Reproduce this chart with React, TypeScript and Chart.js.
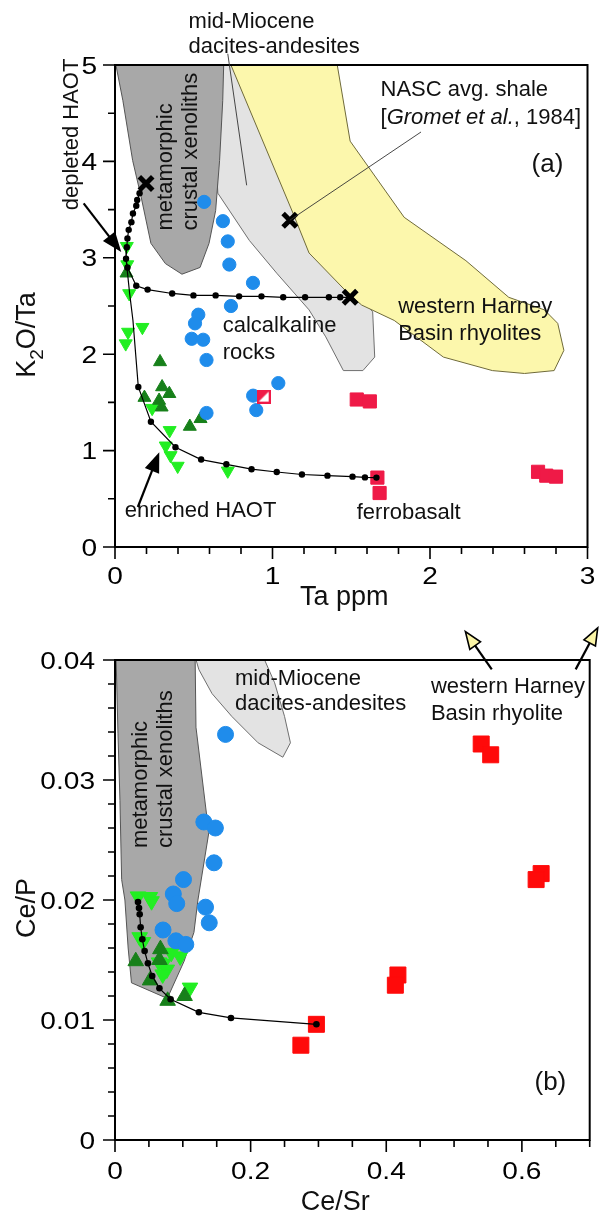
import React, { useEffect, useRef } from 'react';
import { Chart, registerables } from 'chart.js';

Chart.register(...registerables);

const FONT = '"Liberation Sans", Arial, Helvetica, sans-serif';
type P = [number, number];

// ---------------- Panel (a): Ta ppm vs K2O/Ta ----------------
const aXAxis = { min: 0, max: 3, step: 0.2, major: 1 };
const aYAxis = { min: 0, max: 5, step: 0.5, major: 1 };

const aXenolithField: P[] = [[-0.03, 5.3], [0.05, 4.63], [0.112, 4.01], [0.166, 3.63], [0.228, 3.15], [0.32, 2.94], [0.425, 2.83], [0.54, 2.9], [0.597, 3.15], [0.639, 3.49], [0.664, 4.01], [0.684, 4.63], [0.695, 5.3], [-0.03, 5.3]];
const aDaciteField: P[] = [[0.6, 5.3], [0.653, 3.67], [0.853, 3.18], [1.027, 2.84], [1.232, 2.46], [1.338, 2.18], [1.45, 1.83], [1.574, 1.83], [1.649, 1.97], [1.636, 2.44], [1.4, 2.9], [1.1, 4.0], [0.9, 5.3], [0.6, 5.3]];
const aRhyoliteField: P[] = [[0.659, 5.3], [1.131, 3.46], [1.232, 3.05], [1.481, 2.63], [1.566, 2.51], [1.773, 2.35], [2.085, 1.97], [2.396, 1.83], [2.6, 1.8], [2.788, 1.83], [2.85, 2.04], [2.811, 2.32], [2.726, 2.46], [2.5, 2.59], [2.228, 2.97], [1.836, 3.42], [1.493, 4.21], [1.38, 5.3], [0.659, 5.3]];

const aDepletedCurve: P[] = [[0.197, 3.77], [0.156, 3.67], [0.141, 3.6], [0.135, 3.54], [0.114, 3.46], [0.104, 3.37], [0.087, 3.29], [0.079, 3.2], [0.075, 3.11], [0.07, 2.99], [0.079, 2.9], [0.135, 2.71], [0.207, 2.67], [0.363, 2.63], [0.498, 2.61], [0.639, 2.61], [0.788, 2.6], [0.93, 2.6], [1.068, 2.59], [1.207, 2.59], [1.358, 2.59], [1.43, 2.59], [1.493, 2.59]];
const aEnrichedCurve: P[] = [[0.07, 2.99], [0.093, 2.63], [0.114, 2.35], [0.148, 1.66], [0.228, 1.3], [0.384, 1.035], [0.547, 0.907], [0.707, 0.858], [0.867, 0.807], [1.027, 0.778], [1.187, 0.752], [1.349, 0.74], [1.508, 0.73], [1.587, 0.722], [1.66, 0.72]];
const aEndMembers: P[] = [[0.197, 3.77], [1.11, 3.39], [1.493, 2.59]];

const aCalcalkaline: P[] = [[0.566, 3.58], [0.685, 3.38], [0.716, 3.17], [0.726, 2.93], [0.876, 2.74], [0.736, 2.5], [0.529, 2.41], [0.508, 2.32], [0.487, 2.16], [0.56, 2.15], [0.581, 1.94], [0.581, 1.39], [0.877, 1.57], [0.897, 1.42], [1.037, 1.7]];
const aFerrobasalt: P[] = [[1.535, 1.53], [1.618, 1.51], [1.666, 0.72], [1.68, 0.56], [2.686, 0.78], [2.738, 0.74], [2.8, 0.73]];
const aFerrobasaltAlt: P[] = [[0.944, 1.56]];
const aDarkGreenHAOT: P[] = [[0.286, 1.92], [0.299, 1.66], [0.345, 1.59], [0.187, 1.55], [0.28, 1.52], [0.296, 1.45], [0.475, 1.25], [0.543, 1.33], [0.073, 2.84]];
const aLightGreenHAOT: P[] = [[0.075, 3.12], [0.078, 2.93], [0.09, 2.63], [0.174, 2.28], [0.083, 2.23], [0.068, 2.11], [0.236, 1.44], [0.347, 1.21], [0.322, 1.05], [0.353, 0.95], [0.398, 0.84], [0.716, 0.79]];

// ---------------- Panel (b): Ce/Sr vs Ce/P ----------------
const bXAxis = { min: 0, max: 0.7, step: 0.05, major: 0.2 };
const bYAxis = { min: 0, max: 0.04, step: 0.002, major: 0.01 };

const bXenolithField: P[] = [[0.0, 0.0415], [0.0015, 0.0404], [0.0044, 0.0339], [0.0073, 0.0283], [0.0098, 0.0217], [0.0146, 0.02], [0.0194, 0.016], [0.0243, 0.0131], [0.0771, 0.0118], [0.1019, 0.0149], [0.1164, 0.0173], [0.1223, 0.02], [0.1383, 0.0256], [0.1194, 0.0344], [0.1179, 0.0415], [0.0, 0.0415]];
const bDaciteField: P[] = [[0.117, 0.0415], [0.119, 0.0401], [0.1237, 0.0392], [0.1431, 0.0372], [0.1722, 0.0353], [0.211, 0.0331], [0.2475, 0.0319], [0.2587, 0.0331], [0.25, 0.0353], [0.2354, 0.0381], [0.209, 0.0415], [0.117, 0.0415]];
const bMixCurve: P[] = [[0.0339, 0.01983], [0.0354, 0.01933], [0.0364, 0.01881], [0.0378, 0.01773], [0.0403, 0.01673], [0.0437, 0.01575], [0.0485, 0.01473], [0.0549, 0.01367], [0.0655, 0.01264], [0.082, 0.01173], [0.1237, 0.01064], [0.171, 0.01017], [0.297, 0.00964]];
const bCalcalkaline: P[] = [[0.163, 0.0338], [0.131, 0.0265], [0.148, 0.026], [0.146, 0.0231], [0.101, 0.0217], [0.086, 0.0205], [0.091, 0.0197], [0.1335, 0.0194], [0.139, 0.0181], [0.0708, 0.0175], [0.0898, 0.0166], [0.1044, 0.0163]];
const bFerrobasalt: P[] = [[0.54, 0.033], [0.554, 0.0321], [0.6284, 0.0222], [0.621, 0.0217], [0.4172, 0.01375], [0.4134, 0.0129], [0.297, 0.00964], [0.2741, 0.0079]];
const bLightGreenHAOT: P[] = [[0.0339, 0.0203], [0.0514, 0.02025], [0.0539, 0.0199], [0.0364, 0.0169], [0.0412, 0.0165], [0.0713, 0.0147], [0.0764, 0.0142], [0.0703, 0.0138], [0.0961, 0.0153], [0.1106, 0.0127], [0.065, 0.0148], [0.083, 0.0156]];
const bDarkGreenHAOT: P[] = [[0.0306, 0.0149], [0.067, 0.0159], [0.0517, 0.0133], [0.0776, 0.0116], [0.1026, 0.012], [0.0655, 0.015]];

// ---------------- annotations ----------------
type Part = { t: string; it?: boolean; sub?: boolean };
type Txt = { x: number; y: number; parts: Part[]; size?: number; rot?: boolean };
type Seg = { x1: number; y1: number; x2: number; y2: number };
type Arw = Seg & { head: string };

const aTexts: Txt[] = [
  { x: 0.467, y: 5.38, parts: [{ t: 'mid-Miocene' }] },
  { x: 0.467, y: 5.121, parts: [{ t: 'dacites-andesites' }] },
  { x: 1.686, y: 4.675, parts: [{ t: 'NASC avg. shale' }] },
  { x: 1.686, y: 4.385, parts: [{ t: '[' }, { t: 'Gromet et al.', it: true }, { t: ', 1984]' }] },
  { x: 2.645, y: 3.886, parts: [{ t: '(a)' }], size: 26 },
  { x: -0.238, y: 3.493, parts: [{ t: 'depleted HAOT' }], rot: true },
  { x: 0.361, y: 3.283, parts: [{ t: 'metamorphic' }], rot: true },
  { x: 0.523, y: 3.283, parts: [{ t: 'crustal xenoliths' }], rot: true },
  { x: 0.684, y: 2.23, parts: [{ t: 'calcalkaline' }] },
  { x: 0.684, y: 1.954, parts: [{ t: 'rocks' }] },
  { x: 1.798, y: 2.427, parts: [{ t: 'western Harney' }] },
  { x: 1.798, y: 2.151, parts: [{ t: 'Basin rhyolites' }] },
  { x: 0.062, y: 0.311, parts: [{ t: 'enriched HAOT' }] },
  { x: 1.535, y: 0.295, parts: [{ t: 'ferrobasalt' }] },
];
const aLines: Seg[] = [
  { x1: 0.716, y1: 5.117, x2: 0.836, y2: 3.752 },
  { x1: 1.943, y1: 4.305, x2: 1.11, y2: 3.39 },
];
const aArrows: Arw[] = [
  { x1: -0.199, y1: 3.564, x2: 0.031, y2: 3.078, head: '#000' },
  { x1: 0.145, y1: 0.415, x2: 0.276, y2: 0.962, head: '#000' },
];

const bTexts: Txt[] = [
  { x: 0.177, y: 0.03792, parts: [{ t: 'mid-Miocene' }] },
  { x: 0.177, y: 0.03583, parts: [{ t: 'dacites-andesites' }] },
  { x: 0.0466, y: 0.02433, parts: [{ t: 'metamorphic' }], rot: true },
  { x: 0.0844, y: 0.02433, parts: [{ t: 'crustal xenoliths' }], rot: true },
  { x: 0.4658, y: 0.03722, parts: [{ t: 'western Harney' }] },
  { x: 0.4658, y: 0.035, parts: [{ t: 'Basin rhyolite' }] },
  { x: 0.6186, y: 0.004167, parts: [{ t: '(b)' }], size: 26 },
];
const bArrows: Arw[] = [
  { x1: 0.5556, y1: 0.03922, x2: 0.5167, y2: 0.04236, head: '#fbf5a6' },
  { x1: 0.6793, y1: 0.03922, x2: 0.7118, y2: 0.04267, head: '#fbf5a6' },
];

// ---------------- drawing helpers ----------------
function drawParts(ctx: CanvasRenderingContext2D, parts: Part[], size: number, center: boolean) {
  const fontOf = (p: Part) => `${p.it ? 'italic ' : ''}${p.sub ? Math.round(size * 0.7) : size}px ${FONT}`;
  let w = 0;
  parts.forEach((p) => { ctx.font = fontOf(p); w += ctx.measureText(p.t).width; });
  let x = center ? -w / 2 : 0;
  ctx.textAlign = 'left';
  ctx.textBaseline = 'alphabetic';
  parts.forEach((p) => {
    ctx.font = fontOf(p);
    ctx.fillText(p.t, x, p.sub ? size * 0.3 : 0);
    x += ctx.measureText(p.t).width;
  });
}

const isMult = (v: number, m: number) => Math.abs(v / m - Math.round(v / m)) < 1e-6;

type Title = { parts: Part[]; rot: boolean; pos: (a: any) => [number, number] };

function framePlugin(xMajor: number, yMajor: number, fmt: (v: number) => string, xLabelDy: number, yLabelDx: number) {
  return {
    id: 'frameTicks',
    afterDatasetsDraw(chart: any) {
      const { ctx, chartArea: a } = chart;
      const xs = chart.scales.x, ys = chart.scales.y;
      ctx.save();
      ctx.strokeStyle = '#000';
      ctx.lineWidth = 2;
      ctx.strokeRect(a.left, a.top, a.right - a.left, a.bottom - a.top);
      ctx.lineWidth = 1.6;
      ctx.beginPath();
      xs.ticks.forEach((t: any) => {
        const px = xs.getPixelForValue(t.value);
        const L = isMult(t.value, xMajor) ? 12 : 7;
        ctx.moveTo(px, a.bottom); ctx.lineTo(px, a.bottom + L);
      });
      ys.ticks.forEach((t: any) => {
        const py = ys.getPixelForValue(t.value);
        const L = isMult(t.value, yMajor) ? 12 : 7;
        ctx.moveTo(a.left, py); ctx.lineTo(a.left - L, py);
      });
      ctx.stroke();
      ctx.fillStyle = '#000';
      ctx.font = `24px ${FONT}`;
      ctx.textBaseline = 'alphabetic';
      const stretched = (s: string, x: number, y: number, align: CanvasTextAlign) => {
        ctx.save(); ctx.translate(x, y); ctx.scale(1.17, 1); ctx.textAlign = align; ctx.fillText(s, 0, 0); ctx.restore();
      };
      xs.ticks.forEach((t: any) => {
        if (isMult(t.value, xMajor)) stretched(fmt(t.value), xs.getPixelForValue(t.value), a.bottom + xLabelDy, 'center');
      });
      ys.ticks.forEach((t: any) => {
        if (isMult(t.value, yMajor)) stretched(fmt(t.value), a.left - yLabelDx, ys.getPixelForValue(t.value) + 8.6, 'right');
      });
      ctx.restore();
    },
  };
}

function annotPlugin(texts: Txt[], lines: Seg[], arrows: Arw[], titles: Title[]) {
  return {
    id: 'annot',
    afterDatasetsDraw(chart: any) {
      const { ctx, chartArea: a } = chart;
      const xs = chart.scales.x, ys = chart.scales.y;
      const X = (v: number) => xs.getPixelForValue(v);
      const Y = (v: number) => ys.getPixelForValue(v);
      ctx.save();
      ctx.fillStyle = '#111';
      ctx.strokeStyle = '#333';
      ctx.lineWidth = 0.9;
      lines.forEach((l) => {
        ctx.beginPath(); ctx.moveTo(X(l.x1), Y(l.y1)); ctx.lineTo(X(l.x2), Y(l.y2)); ctx.stroke();
      });
      arrows.forEach((r) => {
        const x1 = X(r.x1), y1 = Y(r.y1), x2 = X(r.x2), y2 = Y(r.y2);
        const ang = Math.atan2(y2 - y1, x2 - x1);
        const len = 17, half = 6.5;
        const bx = x2 - len * Math.cos(ang), by = y2 - len * Math.sin(ang);
        ctx.strokeStyle = '#000';
        ctx.lineWidth = 2.2;
        ctx.beginPath(); ctx.moveTo(x1, y1); ctx.lineTo(bx, by); ctx.stroke();
        ctx.beginPath();
        ctx.moveTo(x2, y2);
        ctx.lineTo(bx + half * Math.sin(ang), by - half * Math.cos(ang));
        ctx.lineTo(bx - half * Math.sin(ang), by + half * Math.cos(ang));
        ctx.closePath();
        ctx.fillStyle = r.head;
        ctx.fill();
        ctx.lineWidth = 1.6;
        ctx.stroke();
      });
      ctx.fillStyle = '#111';
      texts.forEach((t) => {
        ctx.save();
        ctx.translate(X(t.x), Y(t.y));
        if (t.rot) ctx.rotate(-Math.PI / 2);
        drawParts(ctx, t.parts, t.size || 22, false);
        ctx.restore();
      });
      titles.forEach((t) => {
        const [px, py] = t.pos(a);
        ctx.save();
        ctx.translate(px, py);
        if (t.rot) ctx.rotate(-Math.PI / 2);
        drawParts(ctx, t.parts, 27, true);
        ctx.restore();
      });
      ctx.restore();
    },
  };
}

const pts = (a: P[]) => a.map(([x, y]) => ({ x, y }));

const field = (data: P[], fillColor: string, lineColor: string, order: number) => ({
  type: 'line', data: pts(data), backgroundColor: fillColor, borderColor: lineColor, borderWidth: 1,
  fill: 'shape', pointRadius: 0, tension: 0, order, clip: 0,
});
const marks = (data: P[], style: any, r: number, color: string, order: number, extra: any = {}) => ({
  type: 'scatter', data: pts(data), pointStyle: style, pointRadius: r, pointBackgroundColor: color,
  pointBorderColor: color, pointBorderWidth: 1, order, ...extra,
});
const curve = (data: P[], dotR: any, order: number) => ({
  type: 'line', data: pts(data), borderColor: '#000', borderWidth: 1.2, pointRadius: dotR,
  pointBackgroundColor: '#000', pointBorderColor: '#000', pointBorderWidth: 0, fill: false, tension: 0, order,
});

function baseOptions(xa: any, ya: any, padTop: number, xH: number) {
  return {
    responsive: false,
    animation: false,
    events: [],
    layout: { padding: { left: 0, right: 6, top: padTop, bottom: 0 } },
    plugins: { legend: { display: false }, tooltip: { enabled: false }, filler: { drawTime: 'beforeDatasetDraw' } },
    scales: {
      x: {
        type: 'linear', min: xa.min, max: xa.max, ticks: { stepSize: xa.step, display: false },
        grid: { display: false }, border: { display: false },
        afterFit: (s: any) => { s.height = xH; },
      },
      y: {
        type: 'linear', min: ya.min, max: ya.max, ticks: { stepSize: ya.step, display: false },
        grid: { display: false }, border: { display: false },
        afterFit: (s: any) => { s.width = 115; },
      },
    },
  };
}

function makeSplitSquare(color: string) {
  const s = 14;
  const c = document.createElement('canvas');
  c.width = s; c.height = s;
  const g = c.getContext('2d')!;
  g.fillStyle = '#fff'; g.fillRect(0, 0, s, s);
  g.fillStyle = color;
  g.beginPath(); g.moveTo(0, 0); g.lineTo(s, 0); g.lineTo(0, s); g.closePath(); g.fill();
  g.strokeStyle = color; g.lineWidth = 2; g.strokeRect(1, 1, s - 2, s - 2);
  return c;
}

const BLUE = '#1f8ceb';
const DKGREEN = '#17801a';
const LTGREEN = '#22ee22';

const TOP_H = 615;
const BOT_H = 1216 - TOP_H;

function buildA(canvas: HTMLCanvasElement) {
  const datasets: any[] = [
    field(aDaciteField, '#e3e3e3', '#6f6f6f', 20),
    field(aRhyoliteField, '#fcf7ac', '#6f6a3a', 19),
    field(aXenolithField, '#a8a8a8', '#555555', 18),
    marks(aLightGreenHAOT, 'triangle', 7.5, LTGREEN, 6, { pointRotation: 180 }),
    marks(aDarkGreenHAOT, 'triangle', 7.5, DKGREEN, 5),
    marks(aCalcalkaline, 'circle', 6.6, BLUE, 4),
    marks(aFerrobasalt, 'rect', 9.3, '#ef1a47', 3),
    marks(aFerrobasaltAlt, makeSplitSquare('#ef1a47'), 6, '#ef1a47', 3),
    curve(aDepletedCurve, 3.2, 1),
    curve(aEnrichedCurve, (c: any) => (c.dataIndex < 3 ? 0 : 3.2), 1),
    { type: 'scatter', data: pts(aEndMembers), pointStyle: 'crossRot', pointRadius: 9.5, pointBorderWidth: 5, pointBorderColor: '#000', pointBackgroundColor: '#000', order: 0 },
  ];
  const titles: Title[] = [
    { parts: [{ t: 'K' }, { t: '2', sub: true }, { t: 'O/Ta' }], rot: true, pos: (a) => [a.left - 80, a.top + 270] },
    { parts: [{ t: 'Ta ppm' }], rot: false, pos: (a) => [(a.left + a.right) / 2 - 7, a.bottom + 58] },
  ];
  return new Chart(canvas, {
    type: 'scatter',
    data: { datasets },
    options: baseOptions(aXAxis, aYAxis, 65, TOP_H - 547) as any,
    plugins: [framePlugin(aXAxis.major, aYAxis.major, (v) => String(Math.round(v)), 37, 18), annotPlugin(aTexts, aLines, aArrows, titles)] as any,
  });
}

function buildB(canvas: HTMLCanvasElement) {
  const datasets: any[] = [
    field(bDaciteField, '#e3e3e3', '#6f6f6f', 20),
    field(bXenolithField, '#a8a8a8', '#555555', 18),
    marks(bLightGreenHAOT, 'triangle', 9, LTGREEN, 6, { pointRotation: 180 }),
    marks(bDarkGreenHAOT, 'triangle', 9, DKGREEN, 5),
    marks(bCalcalkaline, 'circle', 8, BLUE, 4),
    marks(bFerrobasalt, 'rect', 11.3, '#ff0a0a', 3),
    curve(bMixCurve, 3.3, 1),
  ];
  const fmt = (v: number) => {
    if (Math.abs(v) < 1e-9) return '0';
    return Math.abs(v) < 0.1 ? v.toFixed(2) : v.toFixed(1);
  };
  const titles: Title[] = [
    { parts: [{ t: 'Ce/P' }], rot: true, pos: (a) => [a.left - 80, (a.top + a.bottom) / 2 + 8] },
    { parts: [{ t: 'Ce/Sr' }], rot: false, pos: (a) => [(a.left + a.right) / 2 - 17, a.bottom + 70] },
  ];
  return new Chart(canvas, {
    type: 'scatter',
    data: { datasets },
    options: baseOptions(bXAxis, bYAxis, 660 - TOP_H, 76) as any,
    plugins: [framePlugin(bXAxis.major, bYAxis.major, fmt, 39, 20), annotPlugin(bTexts, [], bArrows, titles)] as any,
  });
}

export default function App() {
  const refA = useRef<HTMLCanvasElement>(null);
  const refB = useRef<HTMLCanvasElement>(null);
  useEffect(() => {
    const ca = buildA(refA.current!);
    const cb = buildB(refB.current!);
    return () => { ca.destroy(); cb.destroy(); };
  }, []);
  return (
    <div style={{ position: 'absolute', left: 0, top: 0, width: 602, height: 1216, background: '#fff' }}>
      <canvas ref={refA} width={602} height={TOP_H} style={{ display: 'block', width: 602, height: TOP_H }} />
      <canvas ref={refB} width={602} height={BOT_H} style={{ display: 'block', width: 602, height: BOT_H }} />
    </div>
  );
}
